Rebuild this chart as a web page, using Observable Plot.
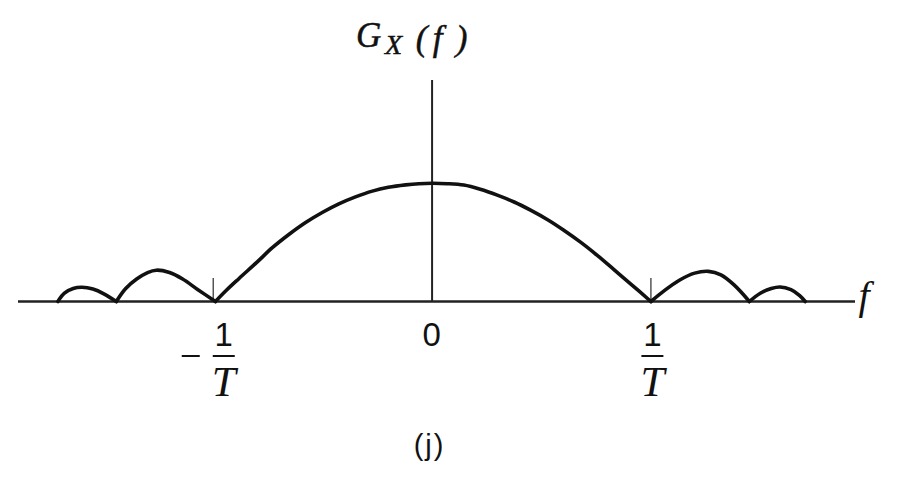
<!DOCTYPE html>
<html>
<head>
<meta charset="utf-8">
<script src="https://cdn.jsdelivr.net/npm/d3@7"></script>
<script src="https://cdn.jsdelivr.net/npm/@observablehq/plot@0.6"></script>
<style>
  body { margin: 0; background: #fff; }
  #chart svg { display: block; }
</style>
</head>
<body>
<div id="chart"></div>
<script>
// Power spectral density G_X(f): main lobe between −1/T and 1/T,
// two decaying side lobes on each side. f in units of 1/T, level relative to G_X(0).
const lobeLeft2  = [[-1.71, 0], [-1.68, 0.07], [-1.64, 0.11], [-1.6, 0.12], [-1.55, 0.105], [-1.5, 0.065], [-1.443, 0]];
const lobeLeft1  = [[-1.443, 0], [-1.4, 0.11], [-1.35, 0.19], [-1.3, 0.245], [-1.26, 0.265], [-1.2, 0.245], [-1.14, 0.19], [-1.07, 0.1], [-0.99, 0]];
const mainLobe   = [[-0.99, 0], [-0.94, 0.095], [-0.882, 0.195], [-0.8, 0.333], [-0.73, 0.455], [-0.65, 0.573], [-0.578, 0.668],
                    [-0.5, 0.755], [-0.426, 0.826], [-0.35, 0.885], [-0.273, 0.934], [-0.2, 0.966], [-0.121, 0.987], [-0.06, 0.997], [0, 1],
                    [0.07, 0.997], [0.145, 0.985], [0.22, 0.95], [0.298, 0.9], [0.375, 0.842], [0.45, 0.773], [0.53, 0.69],
                    [0.602, 0.603], [0.68, 0.5], [0.755, 0.39], [0.83, 0.272], [0.907, 0.15], [1.0, 0]];
const lobeRight1 = [[1.0, 0], [1.06, 0.09], [1.13, 0.18], [1.2, 0.24], [1.263, 0.255], [1.32, 0.225], [1.38, 0.14], [1.45, 0]];
const lobeRight2 = [[1.45, 0], [1.5, 0.07], [1.55, 0.11], [1.59, 0.123], [1.64, 0.1], [1.68, 0.05], [1.705, 0]];

// Frequency axis: tick positions and their labels
const tickValues = [-1, 0, 1];
const tickLabels = ["−1/T", "0", "1/T"];
const xAxisLabel = "f";
const caption = "(j)";

const lobes = { lobeLeft2, lobeLeft1, mainLobe, lobeRight1, lobeRight2 };
const rows = Object.entries(lobes).flatMap(([lobe, pts]) => pts.map(([f, g]) => ({ lobe, f, g })));

const W = 899, H = 486;
const mTop = 80, mBottom = 185, mLeft = 18, mRight = 44;
const tickLen = 23;

const plot = Plot.plot({
  width: W,
  height: H,
  marginTop: mTop,
  marginBottom: mBottom,
  marginLeft: mLeft,
  marginRight: mRight,
  x: { domain: [-1.89, 1.935], axis: null },
  y: { domain: [0, 1.87], axis: null },
  marks: [
    // frequency axis
    Plot.ruleY([0], { stroke: "#222", strokeWidth: 2.5 }),
    // vertical axis through f = 0
    Plot.ruleX([0], { stroke: "#222", strokeWidth: 2 }),
    // short upward ticks at ±1/T
    Plot.tickX(tickValues.filter(v => v !== 0), {
      stroke: "#555", strokeWidth: 1.5,
      insetTop: (H - mTop - mBottom) - tickLen
    }),
    // spectrum
    Plot.line(rows, {
      x: "f", y: "g", z: "lobe",
      curve: "catmull-rom",
      stroke: "#111", strokeWidth: 3.6,
      strokeLinejoin: "round", strokeLinecap: "round"
    })
  ]
});

document.getElementById("chart").append(plot);

// Typeset labels positioned through the plot's scales
const svg = d3.select(plot);
const sx = plot.scale("x"), sy = plot.scale("y");
const x0 = sx.apply(0), yBase = sy.apply(0);
const serif = "'Liberation Serif', 'Times New Roman', serif";
const sans = "'Liberation Sans', Arial, Helvetica, sans-serif";

// y-axis title G_X(f)
const title = svg.append("text")
  .attr("font-family", serif).attr("font-style", "italic").attr("fill", "#111")
  .attr("stroke", "#111").attr("stroke-width", 0.5);
title.append("tspan").attr("x", x0 - 63).attr("y", 47).attr("font-size", 35).text("G");
title.append("tspan").attr("x", x0 - 38).attr("y", 54).attr("font-size", 28).text("X");
title.append("tspan").attr("x", x0 - 10).attr("y", 50).attr("font-size", 35).text("(");
title.append("tspan").attr("x", x0 + 6).attr("y", 50).attr("font-size", 35).text("f");
title.append("tspan").attr("x", x0 + 30).attr("y", 50).attr("font-size", 35).text(")");

// tick labels
tickValues.forEach((v, i) => {
  const label = tickLabels[i];
  const cx = sx.apply(v);
  const g = svg.append("g").attr("fill", "#111");
  if (label.includes("/")) {
    const neg = label.startsWith("−");
    const [num, den] = label.replace("−", "").split("/");
    const fx = cx + (neg ? 11 : 2);
    g.append("text").attr("x", fx).attr("y", yBase + 45)
      .attr("text-anchor", "middle").attr("font-family", sans).attr("font-size", 33).text(num);
    g.append("line").attr("x1", fx - 11).attr("x2", fx + 11)
      .attr("y1", yBase + 55).attr("y2", yBase + 55)
      .attr("stroke", "#111").attr("stroke-width", 2);
    g.append("text").attr("x", fx).attr("y", yBase + 95)
      .attr("text-anchor", "middle").attr("font-family", serif).attr("font-style", "italic")
      .attr("font-size", 43).text(den);
    if (neg) {
      g.append("line").attr("x1", fx - 42).attr("x2", fx - 24)
        .attr("y1", yBase + 55).attr("y2", yBase + 55)
        .attr("stroke", "#111").attr("stroke-width", 2);
    }
  } else {
    g.append("text").attr("x", cx).attr("y", yBase + 45)
      .attr("text-anchor", "middle").attr("font-family", sans).attr("font-size", 33).text(label);
  }
});

// axis name f at the right end of the frequency axis
svg.append("text")
  .attr("x", sx.apply(sx.domain[1]) + 9).attr("y", yBase + 8)
  .attr("font-family", serif).attr("font-style", "italic").attr("font-size", 40)
  .attr("fill", "#111").text(xAxisLabel);

// panel caption
svg.append("text")
  .attr("x", x0 - 2).attr("y", yBase + 154)
  .attr("text-anchor", "middle").attr("font-family", sans).attr("font-size", 29)
  .attr("letter-spacing", 2)
  .attr("fill", "#111").text(caption);
</script>
</body>
</html>
